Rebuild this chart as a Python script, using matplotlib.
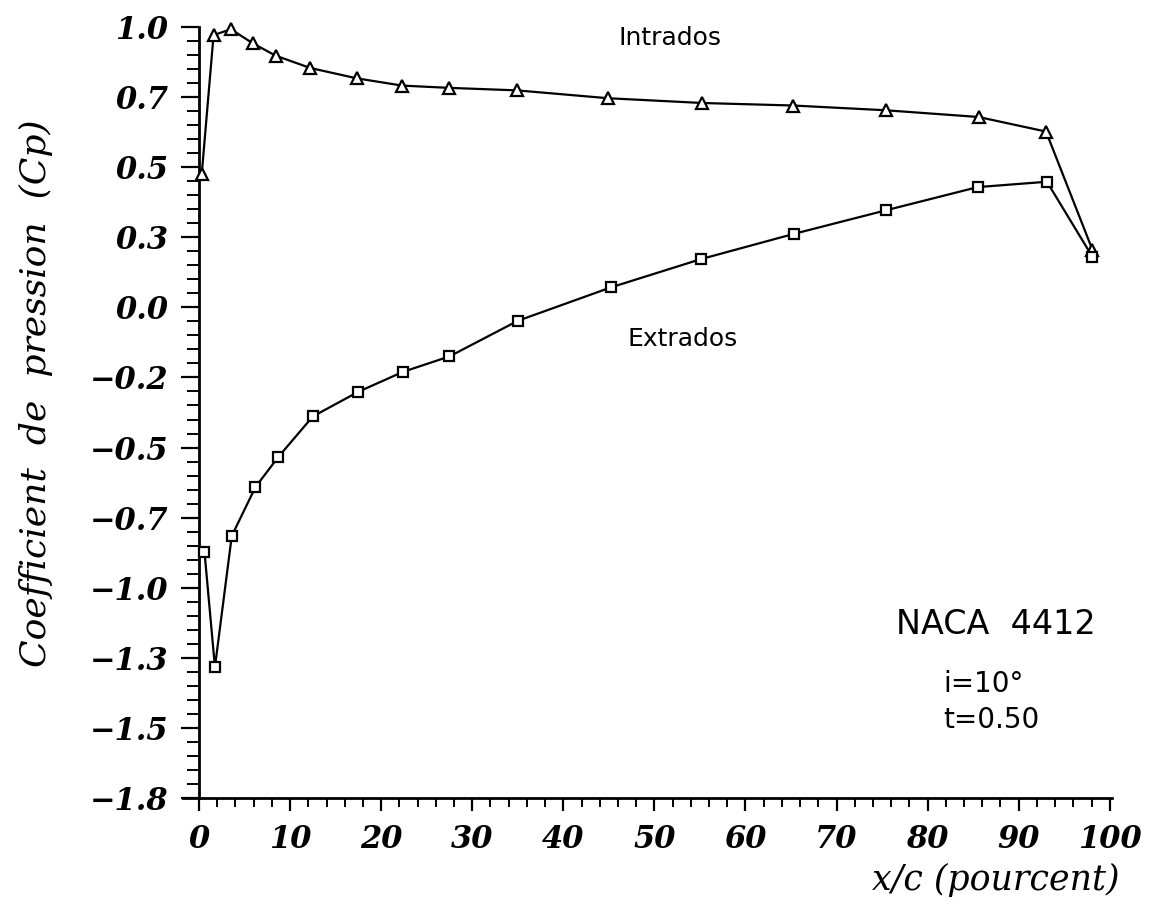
import matplotlib
matplotlib.use("Agg")
import matplotlib.pyplot as plt
from matplotlib.ticker import FixedLocator, MultipleLocator

# ---- data ----
x_intrados = [0.3, 1.6, 3.5, 5.9, 8.4, 12.2, 17.3, 22.3, 27.4, 34.9, 44.9, 55.2, 65.2, 75.4, 85.6, 93.0, 98.1]
cp_intrados = [0.475, 0.971, 0.992, 0.942, 0.898, 0.854, 0.817, 0.791, 0.783, 0.774, 0.746, 0.729, 0.720, 0.703, 0.679, 0.627, 0.205]

x_extrados = [0.6, 1.75, 3.6, 6.2, 8.7, 12.5, 17.5, 22.4, 27.5, 35.0, 45.2, 55.1, 65.3, 75.4, 85.5, 93.1, 98.1]
cp_extrados = [-0.871, -1.283, -0.815, -0.641, -0.534, -0.389, -0.301, -0.230, -0.175, -0.048, 0.071, 0.172, 0.262, 0.346, 0.429, 0.448, 0.180]

x_ticks = [0, 10, 20, 30, 40, 50, 60, 70, 80, 90, 100]
x_tick_labels = ["0", "10", "20", "30", "40", "50", "60", "70", "80", "90", "100"]
y_ticks = [-1.75, -1.5, -1.25, -1.0, -0.75, -0.5, -0.25, 0.0, 0.25, 0.5, 0.75, 1.0]
y_tick_labels = ["\u22121.8", "\u22121.5", "\u22121.3", "\u22121.0", "\u22120.7", "\u22120.5",
                 "\u22120.2", "0.0", "0.3", "0.5", "0.7", "1.0"]

W, H = 1162, 909
fig = plt.figure(figsize=(W / 100, H / 100), dpi=100)
fig.patch.set_facecolor("white")

ax = fig.add_axes([182.6 / W, 1 - 798 / H, 929 / W, (798 - 27) / H])
ax.set_xlim(-1.8, 100.2)
ax.set_ylim(-1.75, 1.0)

ax.plot(x_intrados, cp_intrados, color="black", lw=1.6, marker="^", ms=8,
        mfc="white", mec="black", mew=1.6, zorder=3, clip_on=False)
ax.plot(x_extrados, cp_extrados, color="black", lw=1.6, marker="s", ms=7,
        mfc="white", mec="black", mew=1.6, zorder=3, clip_on=False)

for s in ["top", "right"]:
    ax.spines[s].set_visible(False)
ax.spines["left"].set_position(("data", 0))
ax.spines["left"].set_linewidth(2)
ax.spines["bottom"].set_linewidth(2)

ax.xaxis.set_major_locator(FixedLocator(x_ticks))
ax.xaxis.set_minor_locator(MultipleLocator(2))
ax.yaxis.set_major_locator(FixedLocator(y_ticks))
ax.yaxis.set_minor_locator(MultipleLocator(0.05))
ax.set_xticklabels(x_tick_labels)
ax.set_yticklabels(y_tick_labels)

for lab in ax.get_xticklabels() + ax.get_yticklabels():
    lab.set_fontfamily("DejaVu Serif")
    lab.set_fontstyle("italic")
    lab.set_fontweight("bold")
    lab.set_fontsize(22)

ax.tick_params(axis="y", which="major", direction="out", length=13, width=1.6, pad=9)
ax.tick_params(axis="y", which="minor", direction="out", length=9, width=1.4)
ax.tick_params(axis="x", which="major", direction="out", length=9.5, width=1.6, pad=9)
ax.tick_params(axis="x", which="minor", direction="out", length=6.5, width=1.4)

# axis titles
fig.text(36 / W, 1 - 393 / H, "Coefficient  de  pression  (Cp)", rotation=90,
         ha="center", va="center", family="DejaVu Serif", style="italic", fontsize=26)
fig.text(1120 / W, 1 - 880 / H, "x/c (pourcent)", ha="right", va="center",
         family="DejaVu Serif", style="italic", fontsize=25)

# annotations
fig.text(670 / W, 1 - 38 / H, "Intrados", ha="center", va="center",
         family="DejaVu Sans", fontsize=18)
fig.text(683 / W, 1 - 339 / H, "Extrados", ha="center", va="center",
         family="DejaVu Sans", fontsize=18)
fig.text(996 / W, 1 - 625 / H, "NACA  4412", ha="center", va="center",
         family="DejaVu Sans", fontsize=24)
fig.text(943 / W, 1 - 692 / H, "i=10\u00b0", ha="left", va="baseline",
         family="DejaVu Sans", fontsize=20)
fig.text(943 / W, 1 - 728 / H, "t=0.50", ha="left", va="baseline",
         family="DejaVu Sans", fontsize=20)

fig.savefig("out.png", dpi=100, facecolor="white")
